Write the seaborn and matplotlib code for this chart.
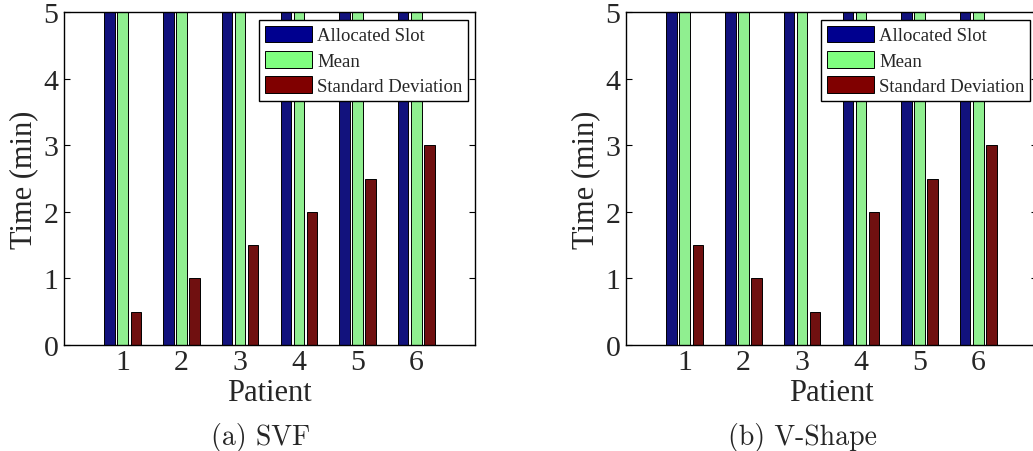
import matplotlib
matplotlib.use("Agg")
import matplotlib.pyplot as plt
from matplotlib.patches import Patch
import seaborn as sns
import pandas as pd

# ---- data ----
patients = [1, 2, 3, 4, 5, 6]
series_names = ["Allocated Slot", "Mean", "Standard Deviation"]
svf_allocated = [10, 10, 10, 10, 10, 10]      # clipped above the 5 min limit
svf_mean = [9, 9, 9, 9, 9, 9]                  # clipped above the 5 min limit
svf_std = [0.5, 1.0, 1.5, 2.0, 2.5, 3.0]
vshape_allocated = [10, 10, 10, 10, 10, 10]
vshape_mean = [9, 9, 9, 9, 9, 9]
vshape_std = [1.5, 1.0, 0.5, 2.0, 2.5, 3.0]
y_ticks = [0, 1, 2, 3, 4, 5]
captions = ["(a) SVF", "(b) V-Shape"]
colors = ["#00008F", "#80FF80", "#800000"]

sns.set_style("white")
plt.rcParams["font.family"] = ["Liberation Serif", "DejaVu Serif"]


def make_df(alloc, mean, std):
    rows = []
    for name, vals in zip(series_names, [alloc, mean, std]):
        for p, v in zip(patients, vals):
            rows.append({"Patient": str(p), "Time": v, "Series": name})
    return pd.DataFrame(rows)


fig = plt.figure(figsize=(10.33, 4.52), dpi=100)
ax_w = 411 / 1033
ax_h = 333 / 452
ax_b = 106 / 452
axes = [fig.add_axes([64 / 1033, ax_b, ax_w, ax_h]),
        fig.add_axes([626 / 1033, ax_b, ax_w, ax_h])]

datasets = [make_df(svf_allocated, svf_mean, svf_std),
            make_df(vshape_allocated, vshape_mean, vshape_std)]

for ax, df in zip(axes, datasets):
    sns.barplot(data=df, x="Patient", y="Time", hue="Series",
                hue_order=series_names, palette=colors,
                width=0.667, gap=0.2, edgecolor="black", linewidth=0.7,
                legend=False, ax=ax, errorbar=None)
    ax.set_xlim(-1, 6)
    ax.set_ylim(0, 5)
    ax.set_yticks(y_ticks)
    ax.set_yticklabels([str(t) for t in y_ticks])
    ax.tick_params(axis="both", direction="in", length=4, width=0.8,
                   labelsize=21.5, color="black", top=True, right=True,
                   bottom=True, left=True)
    ax.tick_params(axis="x", pad=3)
    ax.tick_params(axis="y", pad=4)
    for s in ax.spines.values():
        s.set_visible(True)
        s.set_color("black")
        s.set_linewidth(1.0)
    ax.set_xlabel("Patient", fontsize=22)
    ax.set_ylabel("Time (min)", fontsize=22)
    ax.xaxis.set_label_coords(0.5, -0.10)
    ax.yaxis.set_label_coords(-0.063, 0.5)
    handles = [Patch(facecolor=c, edgecolor="black", linewidth=0.7, label=n)
               for c, n in zip(colors, series_names)]
    leg = ax.legend(handles=handles, loc="upper right",
                    bbox_to_anchor=(0.983, 0.976), borderaxespad=0,
                    fontsize=13.5, frameon=True, fancybox=False,
                    edgecolor="black", framealpha=1, handlelength=2.55,
                    handleheight=1.0, labelspacing=0.35, handletextpad=0.25,
                    borderpad=0.3)
    leg.get_frame().set_linewidth(1.0)

fig.text(261 / 1033, 0.031, captions[0], family="cmr10", fontsize=20,
         ha="center", va="center")
fig.text(802 / 1033, 0.031, captions[1], family="cmr10", fontsize=20,
         ha="center", va="center")

fig.savefig("out.png", dpi=100)
